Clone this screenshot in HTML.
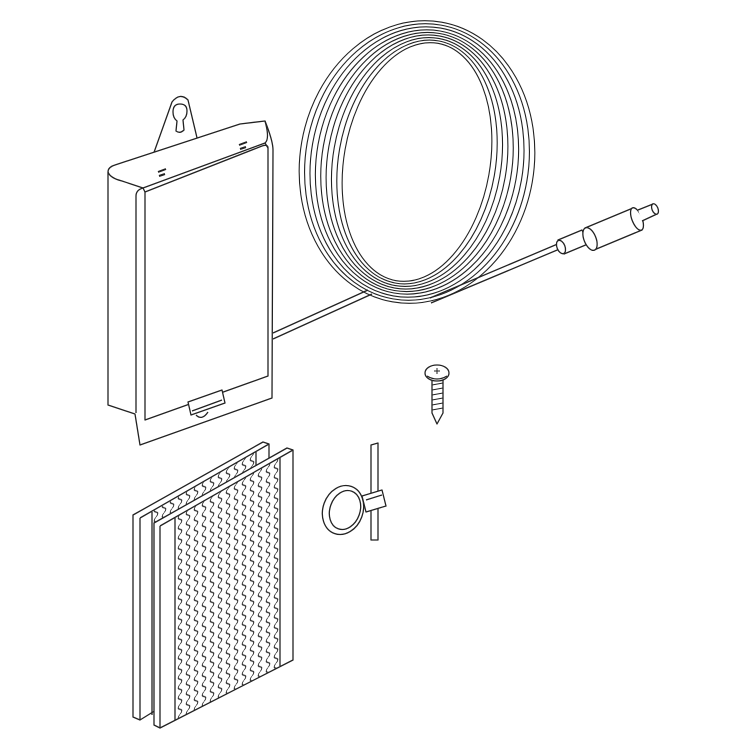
<!DOCTYPE html>
<html><head><meta charset="utf-8"><style>html,body{margin:0;padding:0;background:#fff}svg{display:block}</style></head>
<body>
<svg width="750" height="750" viewBox="0 0 750 750" xmlns="http://www.w3.org/2000/svg" fill="none" stroke="#222" stroke-width="1.3" stroke-linejoin="round">
<defs>
<pattern id="wv" width="8" height="10" patternUnits="userSpaceOnUse" patternTransform="skewY(-28)">
<path d="M4 0 q-3.5 2.5 0 5 q3.5 2.5 0 5" stroke="#222" stroke-width="1"/>
</pattern>
</defs>
<!-- hanging tab -->
<path d="M152 158 L172 102 Q180 92 188 100 L198 142" fill="#fff"/>
<path d="M180 104 q-7 0 -7 8 q0 6 4 9 l-1 10 q4 3 8 -1 l-1 -10 q4 -3 4 -9 q0 -7 -7 -7z"/>
<!-- box body -->
<path d="M108 172 L108 405 L135 414 L140 445 L272 398 L273 150 Q273 141 265 121 L240 124 L115 165 Q108 167 108 172z" fill="#fff"/>
<path d="M108 172 Q110 178 122 181 L143 188 L265 143 Q270 139 265 121"/>
<path d="M143 188 Q136 190 136 196 L136 413"/>
<path d="M145 192 L145 420 L268 376 L268 148 Q268 144 262 146 Z"/>
<path d="M143 188 L145 192 M265 143 L268 148"/>
<path d="M159 176 l6 -2 M240 149 l6 -2 M158 172 l8 -3 M239 145 l8 -3" stroke-width="2"/>
<!-- clip -->
<path d="M188 402 L222 390 L225 403 L191 415 Z M192 411 L222 400 M196 415 q6 6 12 -3" fill="#fff"/>
<!-- cable from box -->
<path d="M273 333 L368 290 M273 339 L372 294"/>
<!-- coil -->
<g stroke-width="1.1">
<ellipse cx="417" cy="162" rx="117" ry="142" transform="rotate(10 417 162)"/>
<ellipse cx="417" cy="162" rx="111.5" ry="139" transform="rotate(10 417 162)"/>
<ellipse cx="417" cy="162" rx="106" ry="136" transform="rotate(10 417 162)"/>
<ellipse cx="417" cy="162" rx="100.5" ry="133" transform="rotate(10 417 162)"/>
<ellipse cx="417" cy="162" rx="95" ry="130.5" transform="rotate(10 417 162)"/>
<ellipse cx="417" cy="162" rx="89.5" ry="128" transform="rotate(10 417 162)"/>
<ellipse cx="417" cy="162" rx="84" ry="125.5" transform="rotate(10 417 162)"/>
<ellipse cx="417" cy="162" rx="78.5" ry="123" transform="rotate(10 417 162)"/>
<ellipse cx="417" cy="162" rx="73" ry="120.5" transform="rotate(10 417 162)"/>
</g>
<!-- cable to plug -->
<path d="M430 298 L560 243 M431 303 L562 248"/>
<!-- plug -->
<g fill="#fff">
<path d="M558 240 L582 230 L588 244 L564 254 Z"/>
<ellipse cx="561" cy="247" rx="4" ry="7" transform="rotate(-22 561 247)"/>
<path d="M585 228 L633 208 L642 230 L594 250 Z"/>
<ellipse cx="590" cy="239" rx="6" ry="12" transform="rotate(-22 590 239)"/>
<ellipse cx="637" cy="219" rx="5" ry="12" transform="rotate(-22 637 219)"/>
<path d="M638 210 L653 204 L657 214 L642 221"/>
<ellipse cx="655" cy="209" rx="3" ry="5.5" transform="rotate(-22 655 209)"/>
</g>
<!-- screw -->
<g fill="#fff">
<path d="M432 380 L432 413 L437 424 L443 413 L443 380 Z"/>
<path d="M432 385 l11 -2 M432 390 l11 -2 M432 395 l11 -2 M432 400 l11 -2 M432 405 l11 -2 M432 410 l11 -2" stroke-width="1"/>
<ellipse cx="437" cy="373" rx="12" ry="8"/>
<path d="M427 376 q10 6 20 0"/>
<path d="M434 371 h6 M437 368 v6" stroke-width="1"/>
</g>
<!-- cable tie -->
<g fill="#fff">
<ellipse cx="343" cy="510" rx="20" ry="25" transform="rotate(20 343 510)"/>
<ellipse cx="345" cy="510" rx="15" ry="20" transform="rotate(20 345 510)"/>
<path d="M371 445 L378 443 L378 540 L371 540 Z"/>
<path d="M362 496 L382 490 L386 506 L366 512 Z"/>
<path d="M366 500 l16 -5"/>
</g>
<!-- back pad -->
<g>
<path d="M133 515 L263 442 L269 444 L269 640 L140 720 L133 717 Z" fill="#fff"/>
<path d="M140 518 L269 444 M140 518 L140 720"/>
<path d="M152 512 L152 715 M256 452 L256 648"/>
<path d="M152 512 L256 452 L256 648 L152 715 Z" fill="url(#wv)" stroke="none"/>
</g>
<!-- front pad -->
<g>
<path d="M154 523 L287 448 L293 450 L293 660 L160 728 L154 725 Z" fill="#fff"/>
<path d="M160 526 L293 450 M160 526 L160 728"/>
<path d="M175 518 L175 720 M280 458 L280 666"/>
<path d="M175 518 L280 458 L280 666 L175 720 Z" fill="url(#wv)" stroke="none"/>
</g>
</svg>
</body></html>
